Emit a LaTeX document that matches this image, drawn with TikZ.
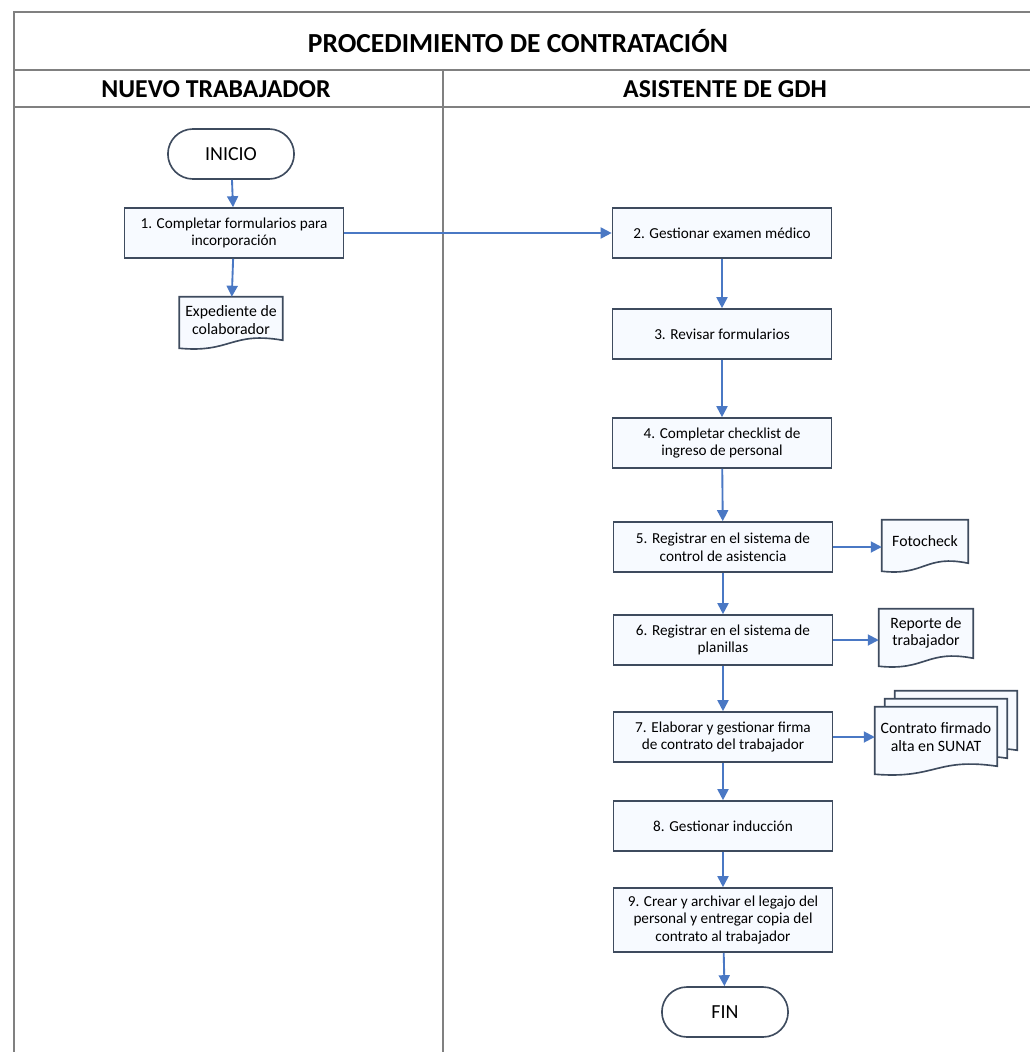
\documentclass[tikz,border=0pt]{standalone}
\usepackage{fontspec}
\setmainfont{Carlito}
\usetikzlibrary{arrows.meta,shapes.misc,calc}

\definecolor{frameline}{HTML}{808080}
\definecolor{boxline}{HTML}{3E4B5E}
\definecolor{boxfill}{HTML}{F7FAFF}
\definecolor{flow}{HTML}{4A78C4}

\begin{document}
\begin{tikzpicture}[x=0.03cm,y=-0.03cm,
  frame/.style={draw=frameline,line width=1.6pt},
  stepbox/.style={draw=boxline,fill=boxfill,line width=1.4pt,
    minimum width=219*0.03cm,minimum height=50*0.03cm,
    align=center,font=\fontsize{13}{15}\selectfont,inner sep=2pt},
  term/.style={draw=boxline,fill=white,line width=1.4pt,rounded rectangle,
    minimum width=134*0.03cm,minimum height=50*0.03cm,
    font=\fontsize{17}{19}\selectfont},
  docnode/.style={align=center,font=\fontsize{13.5}{15}\selectfont,inner sep=1pt},
  docline/.style={draw=boxline,fill=boxfill,line width=1.4pt},
  flowarrow/.style={draw=flow,line width=1.6pt,
    -{Triangle[length=0.33cm,width=0.33cm]}},
  headtext/.style={font=\bfseries\fontsize{22}{24}\selectfont},
]
\useasboundingbox (0,0) rectangle (1030,1052);

% swimlane frame
\draw[frame] (14,1052) -- (14,12) -- (1032,12);
\draw[frame] (14,70) -- (1032,70);
\draw[frame] (14,107) -- (1032,107);
\draw[frame] (443,70) -- (443,1052);

\node[font=\bfseries\fontsize{23.5}{26}\selectfont] (title) at (518,41) {PROCEDIMIENTO DE CONTRATACIÓN};
\node[headtext] (laneA) at (216,89) {NUEVO TRABAJADOR};
\node[headtext] (laneB) at (725,89) {ASISTENTE DE GDH};

% document shape with a wavy lower edge, drawn around a named node
\newcommand{\docshape}[1]{%
  \path[docline] ($(#1.north west)$) -- ($(#1.north east)$) -- ($(#1.south east)+(0,-3)$)
    .. controls ($(#1.south)+(0,-12)$) and ($(#1.south)+(0,10)$) .. ($(#1.south west)+(0,5)$) -- cycle;}

% terminals and steps
\node[term] (inicio) at (231,154) {INICIO};
\node[stepbox] (s1) at (234,233) {1. Completar formularios para\\incorporación};
\node[stepbox] (s2) at (722,233) {2. Gestionar examen médico};
\node[stepbox] (s3) at (722,334) {3. Revisar formularios};
\node[stepbox] (s4) at (722,443) {4. Completar checklist de\\ingreso de personal};
\node[stepbox] (s5) at (723,547) {5. Registrar en el sistema de\\control de asistencia};
\node[stepbox] (s6) at (723,640) {6. Registrar en el sistema de\\planillas};
\node[stepbox] (s7) at (723,737) {7. Elaborar y gestionar firma\\de contrato del trabajador};
\node[stepbox] (s8) at (723,826) {8. Gestionar inducción};
\node[stepbox,minimum height=64*0.03cm] (s9) at (723,920) {9. Crear y archivar el legajo del\\personal y entregar copia del\\contrato al trabajador};
\node[term] (fin) at (725,1012) {FIN};

% documents
\path (231,320) node[minimum width=103*0.03cm,minimum height=46*0.03cm] (d1) {};
\docshape{d1}
\node[docnode] (d1t) at (231,320) {Expediente de\\colaborador};

\path (925,543) node[minimum width=86*0.03cm,minimum height=46*0.03cm] (d5) {};
\docshape{d5}
\node[docnode] (d5t) at (925,541) {Fotocheck};

\path (926,635) node[minimum width=94*0.03cm,minimum height=52*0.03cm] (d6) {};
\docshape{d6}
\node[docnode] (d6t) at (926,633) {Reporte de\\trabajador};

\path (956,722) node[minimum width=122*0.03cm,minimum height=62*0.03cm] (d7c) {};
\path (946,730) node[minimum width=122*0.03cm,minimum height=62*0.03cm] (d7b) {};
\path (936,738) node[minimum width=122*0.03cm,minimum height=62*0.03cm] (d7) {};
\docshape{d7c}
\docshape{d7b}
\docshape{d7}
\node[docnode] (d7t) at (936,737) {Contrato firmado\\alta en SUNAT};

% flow
\draw[flowarrow] (inicio) -- (s1);
\draw[flowarrow] (s1) -- (d1);
\draw[flowarrow] (s1.east) -- (s2.west);
\draw[flowarrow] (s2) -- (s3);
\draw[flowarrow] (s3) -- (s4);
\draw[flowarrow] (s4) -- (s5);
\draw[flowarrow] (s5) -- (s6);
\draw[flowarrow] (s6) -- (s7);
\draw[flowarrow] (s7) -- (s8);
\draw[flowarrow] (s8) -- (s9);
\draw[flowarrow] (s9) -- (fin);
\draw[flowarrow] (s5.east) -- (s5.east -| d5.west);
\draw[flowarrow] (s6.east) -- (s6.east -| d6.west);
\draw[flowarrow] (s7.east) -- (s7.east -| d7.west);
\end{tikzpicture}
\end{document}
